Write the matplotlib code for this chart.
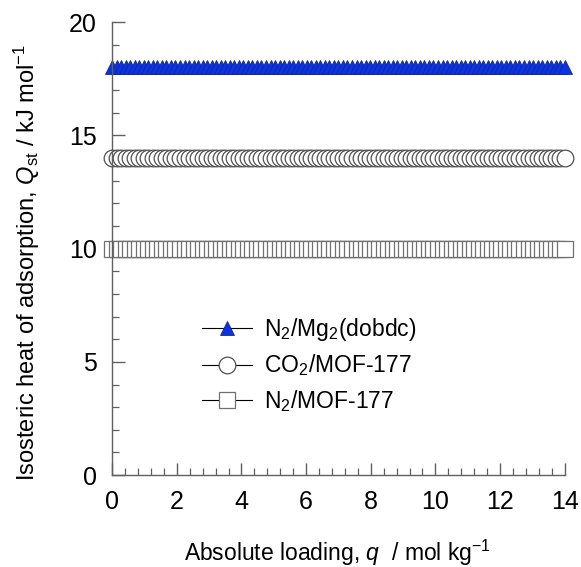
import numpy as np
import matplotlib
matplotlib.use('Agg')
import matplotlib.pyplot as plt
from matplotlib.ticker import MultipleLocator

plt.rcParams['font.family'] = ['Liberation Sans', 'DejaVu Sans']
plt.rcParams['mathtext.fontset'] = 'custom'
plt.rcParams['mathtext.rm'] = 'Liberation Sans'
plt.rcParams['mathtext.it'] = 'Liberation Sans:italic'
plt.rcParams['mathtext.bf'] = 'Liberation Sans:bold'

# loading points (mol/kg) and the constant heats of adsorption (kJ/mol)
q = np.arange(0, 14.001, 0.14)
qst_n2_mg = [18.0] * len(q)
qst_co2_mof = [14.0] * len(q)
qst_n2_mof = [10.0] * len(q)

labels = [r'N$_2$/Mg$_2$(dobdc)', r'CO$_2$/MOF-177', r'N$_2$/MOF-177']

fig = plt.figure(figsize=(5.81, 5.67), dpi=100)
ax = fig.add_axes([0.193, 0.162, 0.779, 0.799])

ax.plot(q, qst_n2_mg, '-', color='black', lw=0.8, marker='^', ms=10.5,
        mfc='#0a32e6', mec='#1a2a80', mew=0.6, label=labels[0], clip_on=False)
ax.plot(q, qst_co2_mof, '-', color='black', lw=0.8, marker='o', ms=12,
        mfc='white', mec='#505050', mew=0.9, label=labels[1], clip_on=False)
ax.plot(q, qst_n2_mof, '-', color='black', lw=0.8, marker='s', ms=11,
        mfc='white', mec='#707070', mew=0.9, label=labels[2], clip_on=False)

ax.set_xlim(0, 14)
ax.set_ylim(0, 20)
ax.xaxis.set_major_locator(MultipleLocator(2))
ax.xaxis.set_minor_locator(MultipleLocator(0.4))
ax.yaxis.set_major_locator(MultipleLocator(5))
ax.yaxis.set_minor_locator(MultipleLocator(1))

for s in ['top', 'right']:
    ax.spines[s].set_visible(False)
for s in ['left', 'bottom']:
    ax.spines[s].set_color('#606060')
    ax.spines[s].set_linewidth(1.0)

ax.tick_params(which='both', direction='in', color='#606060', labelsize=18,
               top=False, right=False)
ax.tick_params(which='major', length=9, width=1)
ax.tick_params(which='minor', length=5, width=0.9)
ax.tick_params(axis='x', pad=11)
ax.tick_params(axis='y', pad=11)

ax.set_xlabel(r'Absolute loading, $q$  / mol kg$^{-1}$', fontsize=16.5)
ax.set_ylabel(r'Isosteric heat of adsorption, $Q_{\rm st}$ / kJ mol$^{-1}$',
              fontsize=17)
ax.xaxis.set_label_coords(0.497, -0.139)
ax.yaxis.set_label_coords(-0.155, 0.47)

ax.legend(loc='upper left', bbox_to_anchor=(0.328, 0.463), bbox_transform=fig.transFigure,
          frameon=False, fontsize=16.5, handlelength=2.2, handletextpad=0.5,
          labelspacing=0.42, borderpad=0)

fig.savefig('out.png', dpi=100)
